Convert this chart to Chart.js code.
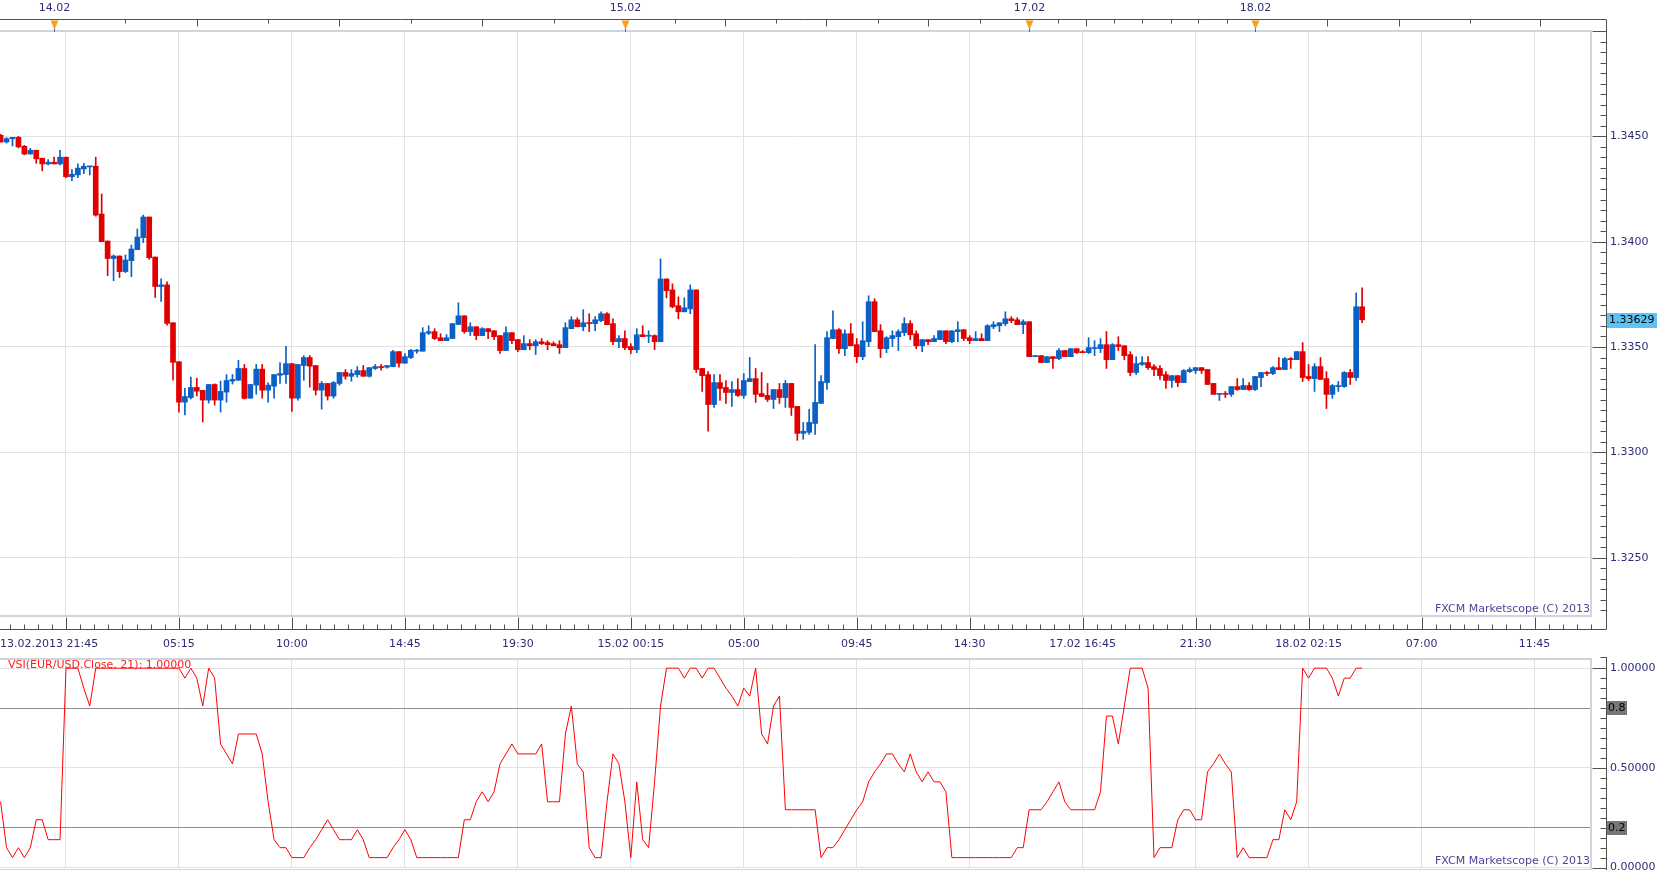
<!DOCTYPE html>
<html>
<head>
<meta charset="utf-8">
<title>EUR/USD m15</title>
<script src="https://cdn.jsdelivr.net/npm/chart.js@4.4.0/dist/chart.umd.min.js"></script>
<style>
  html, body { margin: 0; padding: 0; background: #fff; overflow: hidden; }
  #wrap { position: relative; width: 1663px; height: 870px; overflow: hidden; }
  #mainChart { position: absolute; left: 0; top: 0; }
  #vsiChart { position: absolute; left: 0; top: 650px; }
</style>
</head>
<body>
<div id="wrap">
  <canvas id="mainChart" width="1663" height="650"></canvas>
  <canvas id="vsiChart" width="1663" height="220"></canvas>
</div>
<script>
// EUR/USD 15 min candles
const opens = [
  1.34505, 1.34473, 1.34489, 1.34495, 1.34453, 1.34416, 1.34434, 1.34396, 1.34369, 1.34377,
  1.34369, 1.34401, 1.34308, 1.34317, 1.34345, 1.34355, 1.34358, 1.34131, 1.34003, 1.33920,
  1.33932, 1.33858, 1.33910, 1.33962, 1.34019, 1.34117, 1.33927, 1.33787, 1.33795, 1.33615,
  1.33430, 1.33238, 1.33260, 1.33308, 1.33294, 1.33248, 1.33322, 1.33248, 1.33286, 1.33338,
  1.33342, 1.33398, 1.33257, 1.33319, 1.33395, 1.33295, 1.33314, 1.33366, 1.33369, 1.33421,
  1.33257, 1.33412, 1.33450, 1.33412, 1.33295, 1.33327, 1.33267, 1.33327, 1.33379, 1.33361,
  1.33369, 1.33388, 1.33361, 1.33398, 1.33407, 1.33404, 1.33407, 1.33478, 1.33423, 1.33450,
  1.33480, 1.33480, 1.33565, 1.33573, 1.33544, 1.33530, 1.33540, 1.33607, 1.33648, 1.33573,
  1.33596, 1.33554, 1.33587, 1.33577, 1.33554, 1.33483, 1.33568, 1.33535, 1.33487, 1.33516,
  1.33506, 1.33525, 1.33521, 1.33516, 1.33511, 1.33497, 1.33587, 1.33629, 1.33596, 1.33615,
  1.33611, 1.33625, 1.33658, 1.33611, 1.33525, 1.33540, 1.33502, 1.33487, 1.33558, 1.33551,
  1.33554, 1.33525, 1.33823, 1.33771, 1.33696, 1.33667, 1.33681, 1.33771, 1.33398, 1.33369,
  1.33227, 1.33331, 1.33308, 1.33284, 1.33298, 1.33270, 1.33336, 1.33350, 1.33279, 1.33270,
  1.33251, 1.33298, 1.33260, 1.33327, 1.33218, 1.33090, 1.33095, 1.33137, 1.33232, 1.33331,
  1.33540, 1.33582, 1.33492, 1.33563, 1.33511, 1.33454, 1.33525, 1.33715, 1.33577, 1.33492,
  1.33540, 1.33549, 1.33568, 1.33611, 1.33563, 1.33506, 1.33535, 1.33525, 1.33535, 1.33577,
  1.33525, 1.33573, 1.33582, 1.33544, 1.33530, 1.33540, 1.33530, 1.33596, 1.33601, 1.33611,
  1.33634, 1.33629, 1.33606, 1.33620, 1.33454, 1.33459, 1.33426, 1.33454, 1.33445, 1.33483,
  1.33454, 1.33492, 1.33478, 1.33473, 1.33492, 1.33492, 1.33511, 1.33440, 1.33511, 1.33506,
  1.33464, 1.33379, 1.33417, 1.33426, 1.33407, 1.33398, 1.33369, 1.33341, 1.33364, 1.33331,
  1.33383, 1.33388, 1.33402, 1.33393, 1.33327, 1.33275, 1.33279, 1.33275, 1.33312, 1.33298,
  1.33317, 1.33298, 1.33355, 1.33379, 1.33374, 1.33402, 1.33393, 1.33445, 1.33440, 1.33478,
  1.33360, 1.33350, 1.33407, 1.33350, 1.33275, 1.33312, 1.33312, 1.33379, 1.33355, 1.33691
];
const highs = [
  1.34509, 1.34494, 1.34495, 1.34500, 1.34457, 1.34443, 1.34434, 1.34396, 1.34390, 1.34401,
  1.34434, 1.34401, 1.34342, 1.34369, 1.34372, 1.34358, 1.34401, 1.34226, 1.34003, 1.33937,
  1.33932, 1.33937, 1.33984, 1.34060, 1.34126, 1.34117, 1.33927, 1.33823, 1.33809, 1.33615,
  1.33430, 1.33304, 1.33357, 1.33352, 1.33294, 1.33322, 1.33325, 1.33338, 1.33369, 1.33369,
  1.33437, 1.33417, 1.33322, 1.33417, 1.33417, 1.33330, 1.33369, 1.33426, 1.33503, 1.33421,
  1.33417, 1.33459, 1.33459, 1.33412, 1.33336, 1.33327, 1.33336, 1.33379, 1.33393, 1.33393,
  1.33407, 1.33412, 1.33402, 1.33417, 1.33417, 1.33412, 1.33484, 1.33478, 1.33469, 1.33489,
  1.33489, 1.33592, 1.33601, 1.33587, 1.33563, 1.33559, 1.33611, 1.33710, 1.33648, 1.33615,
  1.33596, 1.33592, 1.33587, 1.33577, 1.33554, 1.33596, 1.33568, 1.33535, 1.33554, 1.33535,
  1.33535, 1.33540, 1.33530, 1.33525, 1.33530, 1.33615, 1.33644, 1.33639, 1.33677, 1.33658,
  1.33644, 1.33667, 1.33663, 1.33634, 1.33554, 1.33577, 1.33516, 1.33587, 1.33601, 1.33577,
  1.33558, 1.33918, 1.33823, 1.33800, 1.33738, 1.33733, 1.33795, 1.33771, 1.33398, 1.33383,
  1.33369, 1.33369, 1.33341, 1.33336, 1.33350, 1.33374, 1.33450, 1.33398, 1.33379, 1.33327,
  1.33298, 1.33327, 1.33341, 1.33327, 1.33218, 1.33142, 1.33204, 1.33511, 1.33364, 1.33573,
  1.33672, 1.33587, 1.33582, 1.33611, 1.33540, 1.33620, 1.33743, 1.33729, 1.33606, 1.33549,
  1.33577, 1.33582, 1.33639, 1.33625, 1.33577, 1.33535, 1.33535, 1.33554, 1.33577, 1.33577,
  1.33577, 1.33620, 1.33582, 1.33554, 1.33573, 1.33563, 1.33606, 1.33620, 1.33615, 1.33667,
  1.33644, 1.33639, 1.33629, 1.33620, 1.33459, 1.33459, 1.33454, 1.33454, 1.33492, 1.33483,
  1.33492, 1.33492, 1.33483, 1.33544, 1.33530, 1.33540, 1.33573, 1.33516, 1.33549, 1.33506,
  1.33478, 1.33454, 1.33454, 1.33454, 1.33417, 1.33412, 1.33383, 1.33364, 1.33364, 1.33393,
  1.33402, 1.33402, 1.33402, 1.33393, 1.33327, 1.33279, 1.33289, 1.33312, 1.33350, 1.33350,
  1.33331, 1.33360, 1.33379, 1.33383, 1.33407, 1.33450, 1.33450, 1.33450, 1.33478, 1.33521,
  1.33417, 1.33421, 1.33450, 1.33383, 1.33322, 1.33336, 1.33383, 1.33393, 1.33757, 1.33781
];
const lows = [
  1.34473, 1.34468, 1.34454, 1.34445, 1.34412, 1.34416, 1.34372, 1.34336, 1.34364, 1.34369,
  1.34364, 1.34304, 1.34289, 1.34304, 1.34323, 1.34317, 1.34121, 1.34000, 1.33839, 1.33815,
  1.33830, 1.33853, 1.33834, 1.33962, 1.33995, 1.33916, 1.33735, 1.33716, 1.33603, 1.33342,
  1.33191, 1.33177, 1.33254, 1.33267, 1.33144, 1.33234, 1.33224, 1.33191, 1.33238, 1.33324,
  1.33342, 1.33253, 1.33257, 1.33276, 1.33257, 1.33238, 1.33257, 1.33327, 1.33327, 1.33194,
  1.33248, 1.33342, 1.33309, 1.33272, 1.33205, 1.33248, 1.33257, 1.33319, 1.33347, 1.33338,
  1.33357, 1.33361, 1.33357, 1.33393, 1.33390, 1.33399, 1.33407, 1.33404, 1.33423, 1.33445,
  1.33470, 1.33480, 1.33559, 1.33535, 1.33530, 1.33530, 1.33540, 1.33607, 1.33565, 1.33554,
  1.33535, 1.33554, 1.33540, 1.33535, 1.33469, 1.33483, 1.33516, 1.33478, 1.33487, 1.33487,
  1.33464, 1.33511, 1.33487, 1.33506, 1.33469, 1.33497, 1.33587, 1.33596, 1.33577, 1.33573,
  1.33577, 1.33620, 1.33606, 1.33511, 1.33497, 1.33487, 1.33469, 1.33473, 1.33549, 1.33521,
  1.33487, 1.33525, 1.33733, 1.33686, 1.33634, 1.33667, 1.33658, 1.33379, 1.33289, 1.33100,
  1.33213, 1.33246, 1.33232, 1.33218, 1.33265, 1.33256, 1.33336, 1.33237, 1.33265, 1.33241,
  1.33208, 1.33232, 1.33213, 1.33175, 1.33057, 1.33062, 1.33085, 1.33085, 1.33232, 1.33298,
  1.33540, 1.33469, 1.33459, 1.33506, 1.33426, 1.33440, 1.33502, 1.33573, 1.33450, 1.33473,
  1.33502, 1.33483, 1.33554, 1.33535, 1.33492, 1.33478, 1.33511, 1.33525, 1.33535, 1.33516,
  1.33521, 1.33525, 1.33530, 1.33516, 1.33530, 1.33530, 1.33530, 1.33587, 1.33573, 1.33601,
  1.33615, 1.33606, 1.33563, 1.33454, 1.33454, 1.33426, 1.33426, 1.33398, 1.33440, 1.33454,
  1.33454, 1.33469, 1.33473, 1.33469, 1.33459, 1.33473, 1.33398, 1.33440, 1.33483, 1.33440,
  1.33364, 1.33369, 1.33412, 1.33393, 1.33364, 1.33346, 1.33303, 1.33308, 1.33312, 1.33331,
  1.33379, 1.33374, 1.33374, 1.33322, 1.33275, 1.33246, 1.33260, 1.33265, 1.33294, 1.33298,
  1.33294, 1.33294, 1.33312, 1.33364, 1.33369, 1.33393, 1.33393, 1.33398, 1.33440, 1.33336,
  1.33341, 1.33289, 1.33346, 1.33208, 1.33256, 1.33289, 1.33308, 1.33322, 1.33341, 1.33615
];
const closes = [
  1.34473, 1.34489, 1.34495, 1.34450, 1.34416, 1.34434, 1.34393, 1.34369, 1.34377, 1.34369,
  1.34401, 1.34308, 1.34320, 1.34349, 1.34358, 1.34358, 1.34126, 1.34000, 1.33920, 1.33932,
  1.33858, 1.33913, 1.33965, 1.34022, 1.34117, 1.33924, 1.33787, 1.33795, 1.33612, 1.33427,
  1.33238, 1.33265, 1.33308, 1.33290, 1.33248, 1.33322, 1.33248, 1.33289, 1.33341, 1.33346,
  1.33398, 1.33256, 1.33322, 1.33395, 1.33295, 1.33319, 1.33369, 1.33374, 1.33421, 1.33257,
  1.33417, 1.33450, 1.33409, 1.33295, 1.33327, 1.33267, 1.33331, 1.33379, 1.33361, 1.33374,
  1.33388, 1.33361, 1.33402, 1.33407, 1.33402, 1.33412, 1.33478, 1.33423, 1.33454, 1.33484,
  1.33484, 1.33568, 1.33573, 1.33540, 1.33530, 1.33544, 1.33611, 1.33648, 1.33573, 1.33596,
  1.33554, 1.33587, 1.33573, 1.33549, 1.33483, 1.33568, 1.33530, 1.33487, 1.33516, 1.33506,
  1.33525, 1.33516, 1.33511, 1.33506, 1.33497, 1.33592, 1.33629, 1.33596, 1.33615, 1.33611,
  1.33629, 1.33658, 1.33606, 1.33525, 1.33540, 1.33497, 1.33487, 1.33558, 1.33549, 1.33554,
  1.33525, 1.33823, 1.33767, 1.33691, 1.33667, 1.33686, 1.33771, 1.33393, 1.33364, 1.33227,
  1.33331, 1.33303, 1.33284, 1.33298, 1.33270, 1.33341, 1.33350, 1.33275, 1.33265, 1.33251,
  1.33298, 1.33260, 1.33327, 1.33213, 1.33090, 1.33100, 1.33142, 1.33237, 1.33336, 1.33544,
  1.33582, 1.33492, 1.33563, 1.33506, 1.33454, 1.33530, 1.33715, 1.33573, 1.33492, 1.33544,
  1.33554, 1.33573, 1.33611, 1.33558, 1.33506, 1.33535, 1.33525, 1.33540, 1.33577, 1.33525,
  1.33577, 1.33582, 1.33540, 1.33530, 1.33540, 1.33530, 1.33601, 1.33606, 1.33615, 1.33634,
  1.33625, 1.33606, 1.33620, 1.33454, 1.33459, 1.33426, 1.33454, 1.33445, 1.33483, 1.33454,
  1.33492, 1.33473, 1.33473, 1.33497, 1.33497, 1.33511, 1.33440, 1.33511, 1.33502, 1.33459,
  1.33379, 1.33421, 1.33426, 1.33402, 1.33393, 1.33364, 1.33341, 1.33364, 1.33331, 1.33388,
  1.33393, 1.33402, 1.33388, 1.33322, 1.33275, 1.33279, 1.33275, 1.33312, 1.33298, 1.33317,
  1.33298, 1.33360, 1.33379, 1.33374, 1.33402, 1.33393, 1.33445, 1.33440, 1.33478, 1.33355,
  1.33350, 1.33407, 1.33346, 1.33275, 1.33317, 1.33317, 1.33379, 1.33355, 1.33691, 1.33629
];
// VSI(EUR/USD.Close, 21), one value per candle
const vsi = [
  0.33, 0.10, 0.05, 0.10, 0.05, 0.10, 0.24, 0.24, 0.14, 0.14,
  0.14, 1, 1, 1, 0.90, 0.81, 1, 1, 1, 1,
  1, 1, 1, 1, 1, 1, 1, 1, 1, 1,
  1, 0.95, 1, 0.95, 0.81, 1, 0.95, 0.62, 0.57, 0.52,
  0.67, 0.67, 0.67, 0.67, 0.57, 0.33, 0.14, 0.10, 0.10, 0.05,
  0.05, 0.05, 0.10, 0.14, 0.19, 0.24, 0.19, 0.14, 0.14, 0.14,
  0.19, 0.14, 0.05, 0.05, 0.05, 0.05, 0.10, 0.14, 0.19, 0.14,
  0.05, 0.05, 0.05, 0.05, 0.05, 0.05, 0.05, 0.05, 0.24, 0.24,
  0.33, 0.38, 0.33, 0.38, 0.52, 0.57, 0.62, 0.57, 0.57, 0.57,
  0.57, 0.62, 0.33, 0.33, 0.33, 0.67, 0.81, 0.52, 0.48, 0.10,
  0.05, 0.05, 0.33, 0.57, 0.52, 0.33, 0.05, 0.43, 0.14, 0.10,
  0.43, 0.81, 1, 1, 1, 0.95, 1, 1, 0.95, 1,
  1, 0.95, 0.90, 0.86, 0.81, 0.90, 0.86, 1, 0.67, 0.62,
  0.81, 0.86, 0.29, 0.29, 0.29, 0.29, 0.29, 0.29, 0.05, 0.10,
  0.10, 0.14, 0.19, 0.24, 0.29, 0.33, 0.43, 0.48, 0.52, 0.57,
  0.57, 0.52, 0.48, 0.57, 0.48, 0.43, 0.48, 0.43, 0.43, 0.38,
  0.05, 0.05, 0.05, 0.05, 0.05, 0.05, 0.05, 0.05, 0.05, 0.05,
  0.05, 0.10, 0.10, 0.29, 0.29, 0.29, 0.33, 0.38, 0.43, 0.33,
  0.29, 0.29, 0.29, 0.29, 0.29, 0.38, 0.76, 0.76, 0.62, 0.81,
  1, 1, 1, 0.90, 0.05, 0.10, 0.10, 0.10, 0.24, 0.29,
  0.29, 0.24, 0.24, 0.48, 0.52, 0.57, 0.52, 0.48, 0.05, 0.10,
  0.05, 0.05, 0.05, 0.05, 0.14, 0.14, 0.29, 0.24, 0.33, 1,
  0.95, 1, 1, 1, 0.95, 0.86, 0.95, 0.95, 1, 1
];

// axis stuff (candle index positions)
const gridIdx = [11, 30, 49, 68, 87, 106, 125, 144, 163, 182, 201, 220, 239, 258];
const timeLabelIdx = [0, 30, 49, 68, 87, 106, 125, 144, 163, 182, 201, 220, 239, 258];
const timeLabels = ["13.02.2013 21:45", "05:15", "10:00", "14:45", "19:30", "15.02 00:15", "05:00",
  "09:45", "14:30", "17.02 16:45", "21:30", "18.02 02:15", "07:00", "11:45"];
const dayIdx = [9, 105, 173, 211];
const dayLabels = ["14.02", "15.02", "17.02", "18.02"];
const topTickIdx = [21, 33, 45, 57, 69, 81, 93, 113.4, 121.9, 130.4, 138.9, 147.5, 156, 164.8,
  177.9, 182.5, 187.2, 191.9, 196.8, 201.4, 206.2, 223.1, 235.2, 247.2, 259];
const topMajorIdx = [33, 57, 81, 121.9, 138.9, 156, 182.5, 223.1, 235.2, 259];
const priceTicks = [1.3250, 1.3300, 1.3350, 1.3400, 1.3450];
const vsiTicks = [0, 0.5, 1];
const vsiLevels = [0.2, 0.8];

const RED = "#e00000";
const BLUE = "#0a60c4";
const AXIS = "#505050";
const TXT = "#2d2d78";
const GRID = "#e1e1e1";
const BOX = "#cdd5df";
const FONT = '11px "DejaVu Sans", Verdana, sans-serif';
const AXIS_X = 1606.5;
const X_MIN = -0.1, X_MAX = 267.5;

const candleIdx = opens.map((o, i) => i);
const isUp = i => closes[i] >= opens[i];

const mainFrame = {
  id: "mainFrame",
  afterDraw(chart) {
    const { ctx, chartArea: a, scales: { x, y } } = chart;
    const topY = 19.5, botY = 629.5;
    ctx.save();
    ctx.strokeStyle = BOX;
    ctx.lineWidth = 2;
    ctx.strokeRect(a.left - 1, a.top, a.right - a.left + 1, a.bottom - a.top);

    ctx.strokeStyle = AXIS;
    ctx.lineWidth = 1;
    ctx.beginPath();
    ctx.moveTo(0, topY); ctx.lineTo(AXIS_X, topY);
    ctx.moveTo(AXIS_X, topY); ctx.lineTo(AXIS_X, botY);
    ctx.moveTo(0, botY); ctx.lineTo(AXIS_X, botY);
    topTickIdx.forEach(v => {
      const px = Math.round(x.getPixelForValue(v)) + 0.5;
      ctx.moveTo(px, topY); ctx.lineTo(px, topY + (topMajorIdx.includes(v) ? 7 : 4));
    });
    for (let k = -8; ; k++) {
      const v = gridIdx[0] + k * 19 / 8;
      if (v > X_MAX) break;
      if (v < X_MIN) continue;
      const px = Math.round(x.getPixelForValue(v)) + 0.5;
      ctx.moveTo(px, botY); ctx.lineTo(px, botY - (k % 8 === 0 ? 12 : 5));
    }
    const p0 = priceTicks[0] - 0.0025;
    for (let k = 0; k <= 60; k++) {
      const p = p0 + k * 0.0005;
      if (p > y.max) break;
      const py = Math.round(y.getPixelForValue(p)) + 0.5;
      ctx.moveTo(AXIS_X - (k % 10 === 5 ? 14 : 6), py); ctx.lineTo(AXIS_X, py);
    }
    ctx.stroke();

    // day markers on the top axis
    ctx.font = FONT;
    ctx.textAlign = "center";
    ctx.textBaseline = "middle";
    dayIdx.forEach((d, k) => {
      const px = Math.round(x.getPixelForValue(d)) + 0.5;
      ctx.fillStyle = "#f7a11a";
      ctx.beginPath();
      ctx.moveTo(px - 4, topY + 1); ctx.lineTo(px + 4, topY + 1); ctx.lineTo(px, topY + 10);
      ctx.closePath();
      ctx.fill();
      ctx.strokeStyle = "#666";
      ctx.beginPath();
      ctx.moveTo(px, topY + 9); ctx.lineTo(px, a.top + 1);
      ctx.stroke();
      ctx.fillStyle = TXT;
      ctx.fillText(dayLabels[k], px, 8);
    });

    // time labels
    timeLabelIdx.forEach((v, k) => {
      if (v === 0) {
        ctx.textAlign = "left";
        ctx.fillText(timeLabels[k], 0, 644);
      } else {
        ctx.textAlign = "center";
        ctx.fillText(timeLabels[k], x.getPixelForValue(v), 644);
      }
    });

    // price labels
    ctx.textAlign = "left";
    priceTicks.forEach(p => ctx.fillText(p.toFixed(4), 1610, y.getPixelForValue(p)));

    // last price tag
    const last = closes[closes.length - 1];
    const ly = y.getPixelForValue(last);
    ctx.fillStyle = "#5ec3f4";
    ctx.fillRect(1607, Math.round(ly) - 7, 50, 15);
    ctx.fillStyle = "#000";
    ctx.fillText(last.toFixed(5), 1609, Math.round(ly) + 0.5);

    ctx.fillStyle = "#553f98";
    ctx.textAlign = "right";
    ctx.fillText("FXCM Marketscope (C) 2013", a.right - 1, a.bottom - 7);
    ctx.restore();
  }
};

const vsiFrame = {
  id: "vsiFrame",
  afterDraw(chart) {
    const { ctx, chartArea: a, scales: { y } } = chart;
    ctx.save();
    ctx.strokeStyle = BOX;
    ctx.lineWidth = 2;
    ctx.strokeRect(a.left - 1, a.top, a.right - a.left + 1, a.bottom - a.top + 2);

    ctx.strokeStyle = AXIS;
    ctx.lineWidth = 1;
    ctx.beginPath();
    ctx.moveTo(AXIS_X, 7); ctx.lineTo(AXIS_X, 220);
    ctx.moveTo(AXIS_X - 6, 7.5); ctx.lineTo(AXIS_X, 7.5);
    for (let k = 0; k <= 20; k++) {
      const py = Math.round(y.getPixelForValue(k * 0.05)) + 0.5;
      ctx.moveTo(AXIS_X - (k % 10 === 0 ? 14 : 6), py); ctx.lineTo(AXIS_X, py);
    }
    ctx.stroke();

    ctx.font = FONT;
    ctx.textBaseline = "middle";
    ctx.textAlign = "left";
    ctx.fillStyle = TXT;
    vsiTicks.forEach(v => ctx.fillText(v.toFixed(5), 1610, y.getPixelForValue(v)));
    vsiLevels.forEach(v => {
      const py = Math.round(y.getPixelForValue(v));
      ctx.fillStyle = "#777";
      ctx.fillRect(1607, py - 7, 20, 14);
      ctx.fillStyle = "#000";
      ctx.fillText(String(v), 1608, py + 0.5);
    });

    ctx.fillStyle = "#ff2020";
    ctx.fillText("VSI(EUR/USD.Close, 21): " + vsi[vsi.length - 1].toFixed(5), 8, 15);

    ctx.fillStyle = "#553f98";
    ctx.textAlign = "right";
    ctx.fillText("FXCM Marketscope (C) 2013", a.right - 1, 211);
    ctx.restore();
  }
};

function makeX() {
  return {
    type: "linear",
    min: X_MIN,
    max: X_MAX,
    offset: false,
    afterBuildTicks: s => { s.ticks = gridIdx.map(v => ({ value: v })); },
    ticks: { display: false },
    grid: { color: GRID, drawTicks: false, offset: false },
    border: { display: false }
  };
}

new Chart(document.getElementById("mainChart"), {
  type: "bar",
  data: {
    datasets: [{
      label: "wick",
      data: candleIdx.map(i => ({ x: i, y: [lows[i], highs[i]] })),
      backgroundColor: c => isUp(c.dataIndex) ? BLUE : RED,
      barThickness: 1,
      grouped: false,
      order: 2
    }, {
      label: "body",
      data: candleIdx.map(i => ({ x: i, y: [opens[i], closes[i]] })),
      backgroundColor: c => isUp(c.dataIndex) ? BLUE : RED,
      barThickness: 5,
      minBarLength: 1,
      grouped: false,
      order: 1
    }]
  },
  options: {
    responsive: false,
    animation: false,
    layout: { padding: { left: 0, top: 31, right: 72, bottom: 34 } },
    plugins: { legend: { display: false }, tooltip: { enabled: false } },
    scales: {
      x: makeX(),
      y: {
        type: "linear",
        position: "right",
        min: 1.32223,
        max: 1.35,
        afterBuildTicks: s => { s.ticks = priceTicks.map(v => ({ value: v })); },
        ticks: { display: false },
        grid: { color: GRID, drawTicks: false },
        border: { display: false }
      }
    }
  },
  plugins: [mainFrame]
});

new Chart(document.getElementById("vsiChart"), {
  type: "line",
  data: {
    datasets: [{
      label: "VSI",
      data: candleIdx.map(i => ({ x: i, y: vsi[i] })),
      borderColor: "#ff0000",
      borderWidth: 1,
      pointRadius: 0,
      tension: 0,
      fill: false
    }]
  },
  options: {
    responsive: false,
    animation: false,
    layout: { padding: { left: 0, top: 9, right: 72, bottom: 2 } },
    plugins: { legend: { display: false }, tooltip: { enabled: false } },
    scales: {
      x: makeX(),
      y: {
        type: "linear",
        position: "right",
        min: -0.002,
        max: 1.046,
        afterBuildTicks: s => { s.ticks = vsiTicks.concat(vsiLevels).map(v => ({ value: v })); },
        ticks: { display: false },
        grid: {
          color: c => vsiLevels.includes(c.tick && c.tick.value) ? "#8c8c8c" : GRID,
          drawTicks: false
        },
        border: { display: false }
      }
    }
  },
  plugins: [vsiFrame]
});
</script>
</body>
</html>
